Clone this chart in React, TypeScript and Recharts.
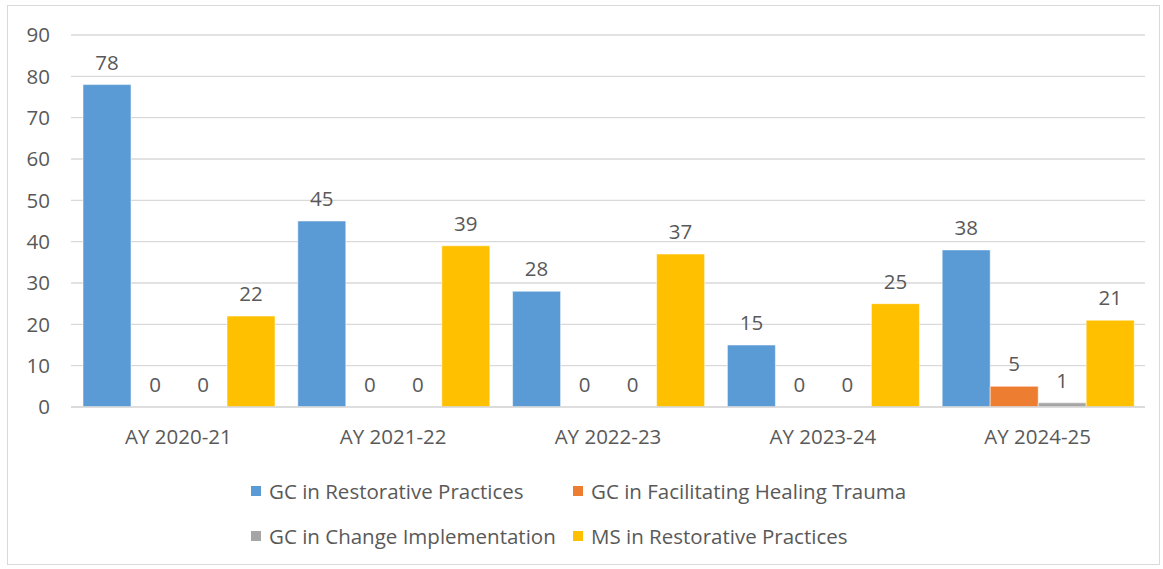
import { Bar, BarChart, CartesianGrid, LabelList, Legend, XAxis, YAxis } from 'recharts';

const YEARS = ['AY 2020-21', 'AY 2021-22', 'AY 2022-23', 'AY 2023-24', 'AY 2024-25'];
const GC_RESTORATIVE = [78, 45, 28, 15, 38];
const GC_HEALING = [0, 0, 0, 0, 5];
const GC_CHANGE = [0, 0, 0, 0, 1];
const MS_RESTORATIVE = [22, 39, 37, 25, 21];
const Y_TICKS = [0, 10, 20, 30, 40, 50, 60, 70, 80, 90];

const SERIES = [
  { key: 'gcRestorative', name: 'GC in Restorative Practices', color: '#5B9BD5' },
  { key: 'gcHealing', name: 'GC in Facilitating Healing Trauma', color: '#ED7D31' },
  { key: 'gcChange', name: 'GC in Change Implementation', color: '#A5A5A5' },
  { key: 'msRestorative', name: 'MS in Restorative Practices', color: '#FFC000' },
];

const data = YEARS.map((year, i) => ({
  year,
  gcRestorative: GC_RESTORATIVE[i],
  gcHealing: GC_HEALING[i],
  gcChange: GC_CHANGE[i],
  msRestorative: MS_RESTORATIVE[i],
}));

const FONT = '"Open Sans", sans-serif';
const FONT_SIZE = 20.5;
const TEXT = '#595959';
const GRID = '#d9d9d9';

const CHART = {
  WIDTH: 1151,
  HEIGHT: 558,
  LEGEND_HEIGHT: 117,
} as const;

// 2x2 legend like the Excel original
const LegendGrid = () => {
  const cols = [243, 565];
  const rows = [44, 89];
  return (
    <div style={{ position: 'relative', width: CHART.WIDTH, height: CHART.LEGEND_HEIGHT }}>
      {SERIES.map((s, i) => (
        <div
          key={s.key}
          style={{
            position: 'absolute',
            left: cols[i % 2],
            top: rows[Math.floor(i / 2)] - 14,
            height: 28,
            display: 'flex',
            alignItems: 'center',
            fontFamily: FONT,
            fontSize: FONT_SIZE,
            color: TEXT,
            whiteSpace: 'nowrap',
          }}
        >
          <span style={{ width: 10, height: 10, background: s.color, marginRight: 8, display: 'inline-block' }} />
          {s.name}
        </div>
      ))}
    </div>
  );
};

export default function App() {
  return (
    <div
      style={{
        position: 'absolute',
        left: 7,
        top: 5,
        width: CHART.WIDTH + 2,
        height: CHART.HEIGHT + 2,
        border: `1px solid ${GRID}`,
        boxSizing: 'border-box',
        background: '#fff',
      }}
    >
      <BarChart
        width={CHART.WIDTH}
        height={CHART.HEIGHT}
        data={data}
        margin={{ top: 29, right: 14, left: 0, bottom: 0 }}
        barCategoryGap={12}
        barGap={0}
      >
        <CartesianGrid vertical={false} stroke={GRID} strokeWidth={1.3} />
        <XAxis
          dataKey="year"
          height={40}
          tickSize={0}
          tickMargin={22}
          axisLine={{ stroke: GRID, strokeWidth: 1.3 }}
          tick={{ fill: TEXT, fontSize: FONT_SIZE, fontFamily: FONT }}
        />
        <YAxis
          width={63}
          domain={[0, 90]}
          ticks={Y_TICKS}
          axisLine={false}
          tickLine={false}
          tickSize={0}
          tickMargin={21}
          tick={{ fill: TEXT, fontSize: FONT_SIZE, fontFamily: FONT }}
        />
        <Legend
          verticalAlign="bottom"
          height={CHART.LEGEND_HEIGHT}
          content={() => <LegendGrid />}
        />
        {SERIES.map((s) => (
          <Bar
            key={s.key}
            dataKey={s.key}
            name={s.name}
            fill={s.color}
            stroke="#ffffff"
            strokeOpacity={0.5}
            minPointSize={0.01}
            isAnimationActive={false}
          >
            <LabelList
              dataKey={s.key}
              position="top"
              offset={15}
              fill={TEXT}
              fontSize={FONT_SIZE}
              fontFamily={FONT}
            />
          </Bar>
        ))}
      </BarChart>
    </div>
  );
}
